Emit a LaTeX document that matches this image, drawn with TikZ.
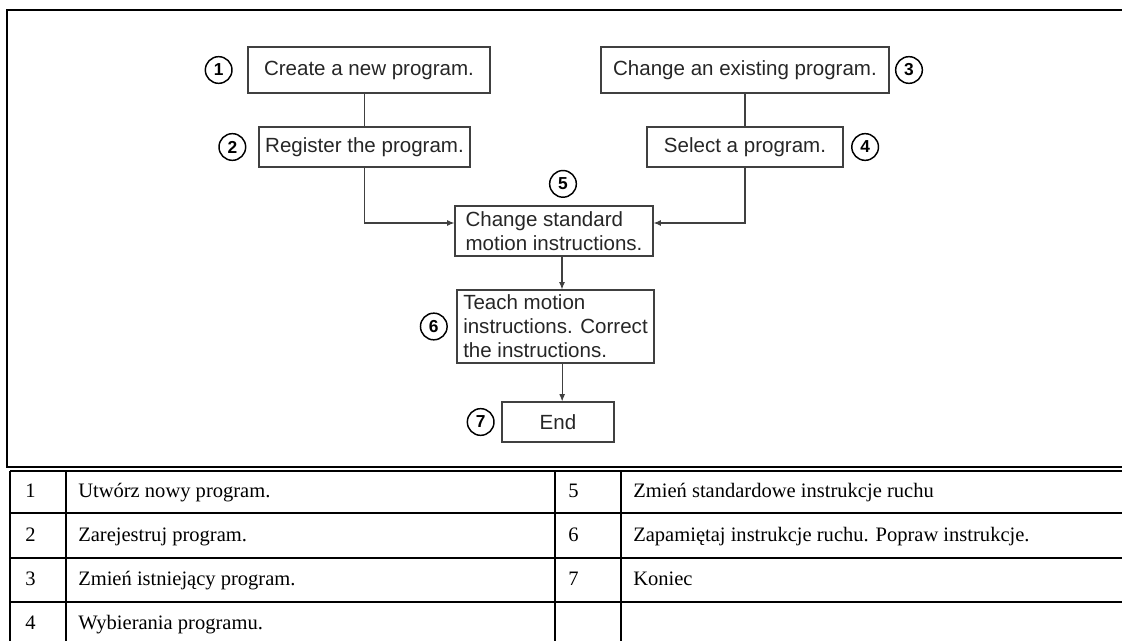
\documentclass[tikz,border=0pt]{standalone}
\usepackage{fontspec}
\setmainfont{Liberation Serif}
\setsansfont{Liberation Sans}
\usetikzlibrary{arrows.meta, positioning}

\begin{document}
\begin{tikzpicture}[
    x=0.75pt, y=0.75pt,
    stepbox/.style={draw=black!75, line width=0.9pt, inner sep=0pt, align=left, text=black!85, font=\sffamily\fontsize{15.4}{18}\selectfont},
    num/.style={draw, circle, line width=1.1pt, minimum size=20pt, inner sep=0pt, font=\sffamily\bfseries\fontsize{13}{13}\selectfont},
    arrow/.style={-{Latex[length=5.5pt, width=4.5pt]}, line width=0.8pt, draw=black!75},
    link/.style={line width=0.8pt, draw=black!75},
    cell/.style={anchor=base west, inner sep=0pt, font=\fontsize{15.4}{18}\selectfont},
    rule/.style={line width=1.4pt}
]
    \useasboundingbox (0,0) rectangle (1122,640);
    \clip (0,0) rectangle (1122,640);

    % Flow chart
    \node[stepbox, minimum width=181.5pt, minimum height=34.5pt] (create) at (369,570) {Create a new program.};
    \node[stepbox, minimum width=158.25pt, minimum height=30pt] (register) at (364.5,493) {Register the program.};
    \node[stepbox, minimum width=216pt, minimum height=34.5pt] (change) at (745,570) {Change an existing program.};
    \node[stepbox, minimum width=147pt, minimum height=30pt] (select) at (745,493) {Select a program.};
    \node[stepbox, minimum width=148.5pt, minimum height=37.5pt] (standard) at (554,409) {Change standard\\motion instructions.};
    \node[stepbox, minimum width=147.75pt, minimum height=54.75pt] (teach) at (555.5,313.5) {Teach motion\\instructions. Correct\\the instructions.};
    \node[stepbox, minimum width=84pt, minimum height=30pt] (finish) at (558,218) {End};

    % Step numbers
    \node[num, left=11pt of create] (c1) {1};
    \node[num, left=9pt of register] (c2) {2};
    \node[num, right=4pt of change] (c3) {3};
    \node[num, right=5.6pt of select] (c4) {4};
    \node[num, above=5.6pt of standard, xshift=6.75pt] (c5) {5};
    \node[num, left=6.4pt of teach] (c6) {6};
    \node[num, left=5pt of finish] (c7) {7};

    % Connections
    \draw[link] (register.north) -- (register.north |- create.south);
    \draw[link] (select.north) -- (select.north |- change.south);
    \draw[arrow] (register.south) |- ([yshift=6pt]standard.west);
    \draw[arrow] (select.south) |- ([yshift=6pt]standard.east);
    \draw[arrow] ([xshift=6pt]standard.south) -- ([xshift=6pt]standard.south |- teach.north);
    \draw[arrow] ([xshift=5pt]teach.south) -- ([xshift=5pt]teach.south |- finish.north);

    % Frame
    \draw[line width=1.6pt] (7,630) rectangle (1140,173);

    % Legend table
    \foreach \y in {169,127,82,38}
        \draw[rule] (10,\y) -- (1140,\y);
    \foreach \x in {10,66,555,621}
        \draw[rule] (\x,169) -- (\x,-10);
    \foreach \n/\txt in {1/Utwórz nowy program., 2/Zarejestruj program., 3/Zmień istniejący program., 4/Wybierania programu.}{
        \node[cell] (no\n) at (25,186.5-44*\n) {\n};
        \node[cell] (row\n) at (78,186.5-44*\n) {\txt};
    }
    \foreach \n/\txt in {5/Zmień standardowe instrukcje ruchu, 6/Zapamiętaj instrukcje ruchu. Popraw instrukcje., 7/Koniec}{
        \node[cell] (no\n) at (568,362.5-44*\n) {\n};
        \node[cell] (row\n) at (633,362.5-44*\n) {\txt};
    }
\end{tikzpicture}
\end{document}
